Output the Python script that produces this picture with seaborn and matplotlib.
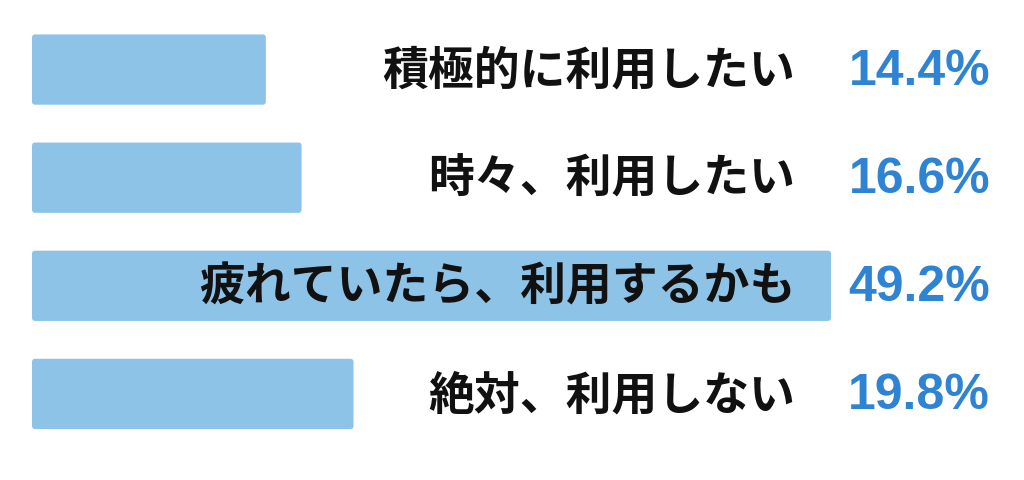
import matplotlib
matplotlib.use("Agg")
import matplotlib.pyplot as plt
from matplotlib.patches import FancyBboxPatch
import seaborn as sns
import pandas as pd

labels = ["積極的に利用したい", "時々、利用したい", "疲れていたら、利用するかも", "絶対、利用しない"]
values = [14.4, 16.6, 49.2, 19.8]
pct_text = ["14.4%", "16.6%", "49.2%", "19.8%"]

bar_color = "#8EC3E8"
pct_color = "#2F83D3"

sns.set_theme(style="white")
plt.rcParams["font.family"] = ["Noto Sans CJK JP", "DejaVu Sans"]

df = pd.DataFrame({"label": labels, "value": values})

fig = plt.figure(figsize=(10.24, 4.8), dpi=100)
ax = fig.add_axes([32 / 1024, 0.0667, 799 / 1024, 0.901])
sns.barplot(data=df, x="value", y="label", color=bar_color, width=0.65,
            saturation=1, ax=ax)

ax.set_xlim(0, 49.2)
ax.set_ylim(3.5, -0.5)

# rounded corners
for p in list(ax.patches):
    x, y = p.get_x(), p.get_y()
    w, h = p.get_width(), p.get_height()
    rb = FancyBboxPatch((x, y), w, h,
                        boxstyle="round,pad=0,rounding_size=0.2",
                        mutation_aspect=0.15,
                        facecolor=bar_color, edgecolor="none")
    p.remove()
    ax.add_patch(rb)

trans = ax.get_yaxis_transform()
for i, (lab, pt) in enumerate(zip(labels, pct_text)):
    ax.text(0.955, i + 0.02, lab, transform=trans, ha="right", va="center",
            fontsize=33, fontweight="bold", color="#111111", clip_on=False)
    ax.text(1.199, i + 0.02, pt, transform=trans, ha="right", va="center",
            fontsize=36, fontweight="bold", color=pct_color, clip_on=False,
            family=["Liberation Sans Narrow", "Liberation Sans"])

ax.set_xlabel("")
ax.set_ylabel("")
ax.set_xticks([])
ax.set_yticks([])
sns.despine(ax=ax, left=True, bottom=True)

fig.savefig("out.png", dpi=100)
